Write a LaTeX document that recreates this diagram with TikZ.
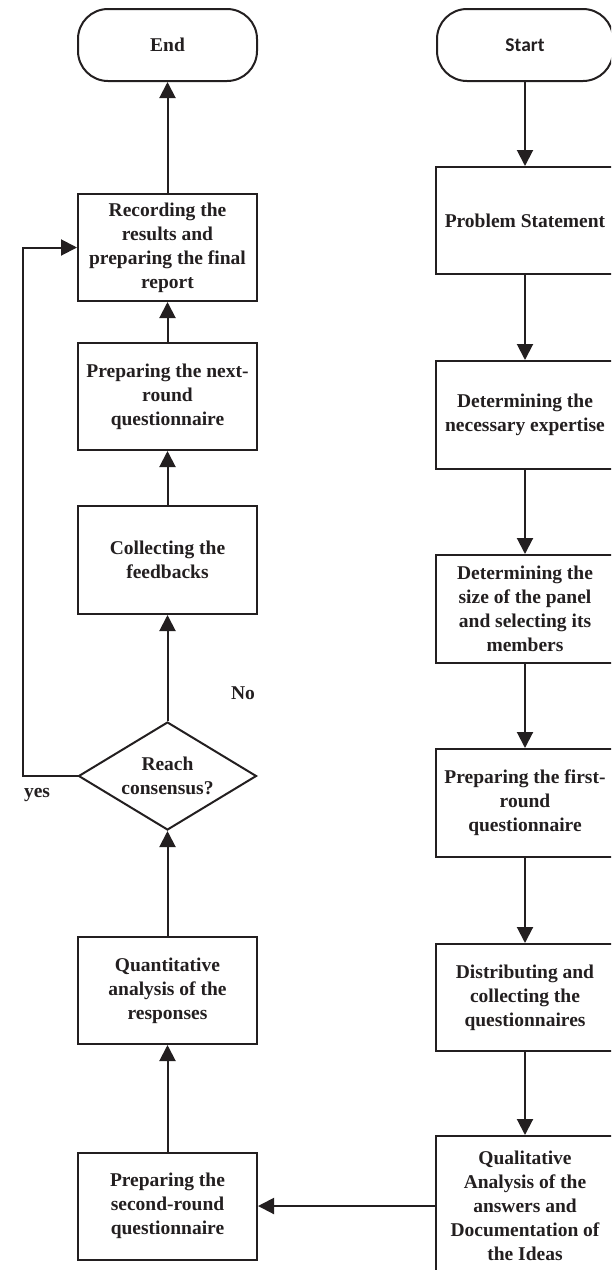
\documentclass[tikz,border=0pt]{standalone}
\usepackage{fontspec}
\setmainfont{Liberation Serif}
\newfontfamily\termfont{Carlito}
\usepackage{tikz}
\usetikzlibrary{shapes.geometric}
\usetikzlibrary{arrows.meta}
\definecolor{ink}{HTML}{231F20}

\begin{document}
\begin{tikzpicture}[x=1pt,y=-1pt,color=ink,line width=2pt,>={Triangle[length=16pt,width=16pt]},
	box/.style={draw,align=center,minimum width=179pt,minimum height=107pt,inner sep=0pt,font=\fontsize{19.5}{24}\selectfont\bfseries},
	term/.style={box,rounded corners=30pt,minimum height=72pt},
	decision/.style={box,shape=diamond,aspect=1.65,minimum width=178pt,minimum height=108pt},
	lbl/.style={font=\fontsize{19.5}{24}\selectfont\bfseries}]
	\useasboundingbox (0,0) rectangle (611,1270);
	\clip (0,0) rectangle (611,1270);

	\node[term] (end) at (167.5,45) {End};
	\node[box] (rec) at (167.5,247.5) {Recording the\\results and\\preparing the final\\report};
	\node[box] (nextq) at (167.5,396.5) {Preparing the next-\\round\\questionnaire};
	\node[box,minimum height=108pt] (feed) at (167.5,560) {Collecting the\\feedbacks};
	\node[decision] (cons) at (167.5,776) {Reach\\consensus?};
	\node[box] (quant) at (167.5,990.5) {Quantitative\\analysis of the\\responses};
	\node[box] (secq) at (167.5,1206) {Preparing the\\second-round\\questionnaire};

	\node[term,minimum width=176pt,font=\fontsize{19.5}{24}\selectfont\termfont\bfseries] (start) at (525,45) {Start};
	\node[box] (prob) at (525,220.5) {Problem Statement};
	\node[box,minimum height=108pt] (expert) at (525,415) {Determining the\\necessary expertise};
	\node[box,minimum height=108pt] (panel) at (525,609) {Determining the\\size of the panel\\and selecting its\\members};
	\node[box,minimum height=108pt] (firstq) at (525,803) {Preparing the first-\\round\\questionnaire};
	\node[box] (distr) at (525,997.5) {Distributing and\\collecting the\\questionnaires};
	\node[box,minimum height=140pt] (qual) at (525,1206) {Qualitative\\Analysis of the\\answers and\\Documentation of\\the Ideas};

	\node[lbl] (no) at (243,693) {No};
	\node[lbl] (yes) at (37,795) {yes};

	\draw[->] (start) -- (prob);
	\draw[->] (prob) -- (expert);
	\draw[->] (expert) -- (panel);
	\draw[->] (panel) -- (firstq);
	\draw[->] (firstq) -- (distr);
	\draw[->] (distr) -- (qual);
	\draw[->] (qual) -- (secq);
	\draw[->] (secq) -- (quant);
	\draw[->] (quant) -- (cons);
	\draw[->] (cons) -- (feed);
	\draw[->] (feed) -- (nextq);
	\draw[->] (nextq) -- (rec);
	\draw[->] (rec) -- (end);
	\draw[->] (cons.west) -- ++(-55,0) |- (rec.west);
\end{tikzpicture}
\end{document}
